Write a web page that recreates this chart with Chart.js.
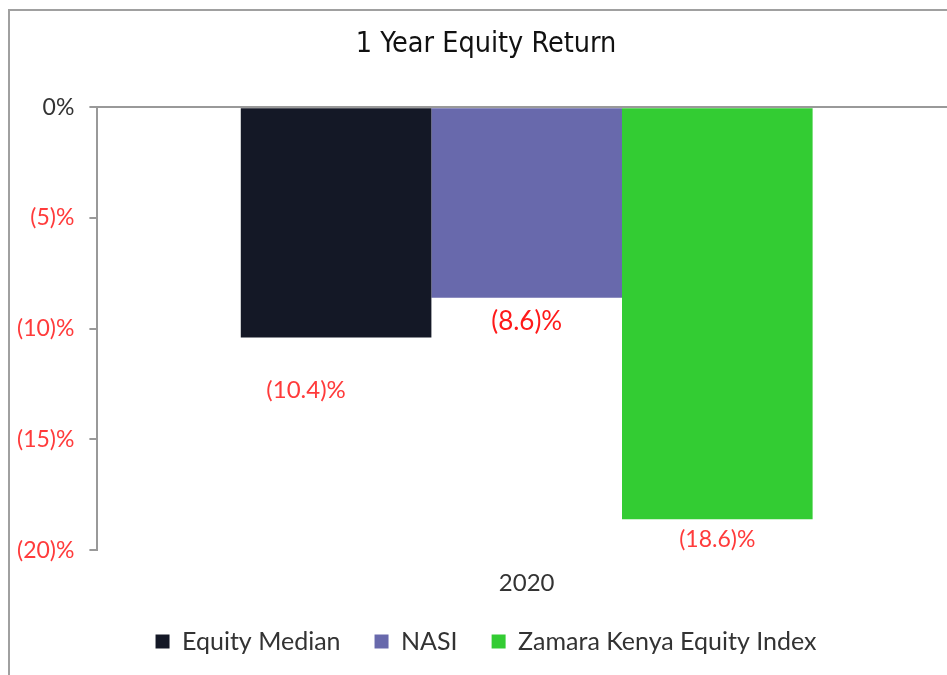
<!DOCTYPE html>
<html>
<head>
<meta charset="utf-8">
<title>1 Year Equity Return</title>
<script src="https://cdn.jsdelivr.net/npm/chart.js@4/dist/chart.umd.min.js"></script>
<style>
  html, body { margin: 0; padding: 0; background: #fff; overflow: hidden; width: 947px; height: 675px; }
  #frame { position: absolute; left: 8px; top: 9px; width: 954px; height: 700px; border: 2px solid #a0a0a0; }
  #returnChart { position: absolute; left: 2px; top: 13px; display: block; }
</style>
</head>
<body>
<div id="frame"></div>
<canvas id="returnChart" width="968" height="651"></canvas>
<script>
// chart data
const categories = ['2020'];
const seriesNames = ['Equity Median', 'NASI', 'Zamara Kenya Equity Index'];
const equityMedian = [-10.4];
const nasi = [-8.6];
const zamaraIndex = [-18.6];
const yTicks = [0, -5, -10, -15, -20];

const seriesColors = ['#141826', '#6869ac', '#33cc33'];
const red = '#ff3b3b';
const fontFamily = 'Lato, "Open Sans", sans-serif';

function fmtPct(v, digits) {
    if (v === 0) return '0%';
    return '(' + Math.abs(v).toFixed(digits) + ')%';
}

// value labels under each bar (offsets mimic the original placement)
const labelPlugin = {
    id: 'barLabels',
    afterDatasetsDraw(chart) {
        const ctx = chart.ctx;
        const opts = [
            { dx: -30, dy: 53, size: 24, color: red },
            { dx: 0, dy: 24, size: 26, color: '#ff1a1a' },
            { dx: 0, dy: 20, size: 23, color: red }
        ];
        chart.data.datasets.forEach(function(ds, i) {
            const meta = chart.getDatasetMeta(i);
            meta.data.forEach(function(bar, j) {
                const o = opts[i];
                ctx.save();
                ctx.font = o.size + 'px ' + fontFamily;
                ctx.fillStyle = o.color;
                ctx.textAlign = 'center';
                ctx.textBaseline = 'middle';
                ctx.fillText(fmtPct(ds.data[j], 1), bar.x + o.dx, bar.y + o.dy);
                ctx.restore();
            });
        });
    }
};

const ctx = document.getElementById('returnChart').getContext('2d');
const returnChart = new Chart(ctx, {
    type: 'bar',
    data: {
        labels: categories,
        datasets: [
            { label: seriesNames[0], data: equityMedian, backgroundColor: seriesColors[0] },
            { label: seriesNames[1], data: nasi, backgroundColor: seriesColors[1] },
            { label: seriesNames[2], data: zamaraIndex, backgroundColor: seriesColors[2] }
        ]
    },
    options: {
        responsive: false,
        animation: false,
        layout: { padding: { left: 14, right: 14, top: 0, bottom: 0 } },
        datasets: {
            bar: { categoryPercentage: 0.666, barPercentage: 1.0, borderWidth: 0 }
        },
        scales: {
            x: {
                grid: { display: false },
                border: { display: false },
                ticks: { color: '#333', font: { family: fontFamily, size: 24 }, padding: 11 },
                // pull the legend up closer to the category label
                afterFit: function(axis) { axis.height -= 14; }
            },
            y: {
                min: -20,
                max: 0,
                afterBuildTicks: function(axis) {
                    axis.ticks = yTicks.map(function(v) { return { value: v }; });
                },
                afterFit: function(axis) { axis.width -= 14; },
                border: { display: true, color: '#999', width: 2 },
                grid: {
                    drawOnChartArea: true,
                    color: function(c) { return c.tick && c.tick.value === 0 ? '#999' : 'rgba(0,0,0,0)'; },
                    lineWidth: 2,
                    tickColor: '#999',
                    tickLength: 8
                },
                ticks: {
                    padding: 15,
                    font: { family: fontFamily, size: 23 },
                    color: function(c) { return c.tick && c.tick.value < 0 ? red : '#333'; },
                    callback: function(v) { return fmtPct(v, 0); }
                }
            }
        },
        plugins: {
            title: {
                display: true,
                text: '1 Year Equity Return',
                color: '#111',
                font: { family: '"Liberation Sans Narrow", "DejaVu Sans Condensed", sans-serif', size: 28.5, weight: 'normal' },
                padding: { top: 14, bottom: 46 }
            },
            legend: {
                position: 'bottom',
                labels: {
                    color: '#333',
                    font: { family: fontFamily, size: 25 },
                    boxWidth: 14,
                    boxHeight: 14,
                    padding: 34
                }
            },
            tooltip: { enabled: false }
        }
    },
    plugins: [labelPlugin]
});
</script>
</body>
</html>
